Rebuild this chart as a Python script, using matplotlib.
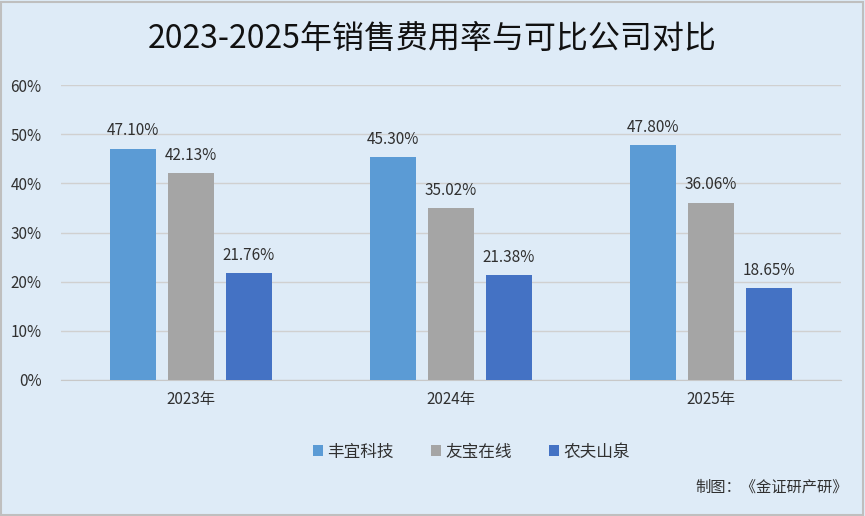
import numpy as np
import matplotlib
matplotlib.use('Agg')
import matplotlib.pyplot as plt
from matplotlib.patches import Rectangle

plt.rcParams['font.family'] = ['Noto Sans CJK SC', 'DejaVu Sans']

# data
years = ['2023年', '2024年', '2025年']
companies = ['丰宜科技', '友宝在线', '农夫山泉']
fengyi = [47.10, 45.30, 47.80]
youbao = [42.13, 35.02, 36.06]
nongfu = [21.76, 21.38, 18.65]
colors = ['#5B9BD5', '#A5A5A5', '#4472C4']
yticks = [0, 10, 20, 30, 40, 50, 60]

bg = '#DEEBF7'
fig = plt.figure(figsize=(8.65, 5.16), dpi=100, facecolor=bg)
fig.patches.append(Rectangle((0.001, 0.002), 0.997, 0.995, transform=fig.transFigure,
                             fill=False, edgecolor='#BFBFBF', linewidth=1.5))

ax = fig.add_axes([0.0705, 0.2636, 0.9015, 0.5714])
ax.set_facecolor(bg)

x = np.arange(len(years))
width = 0.177
step = 0.222
series = [fengyi, youbao, nongfu]
for i, (vals, name, c) in enumerate(zip(series, companies, colors)):
    bars = ax.bar(x + (i - 1) * step, vals, width, color=c, label=name, zorder=3)
    for b, v in zip(bars, vals):
        ax.text(b.get_x() + b.get_width() / 2, v + 1.9, '%.2f%%' % v,
                ha='center', va='bottom', fontsize=11, color='#303030')

ax.set_xlim(-0.5, 2.5)
ax.set_ylim(0, 60)
ax.set_yticks(yticks)
ax.set_yticklabels(['%d%%' % t for t in yticks], fontsize=11, color='#303030')
ax.set_xticks(x)
ax.set_xticklabels(years, fontsize=11, color='#303030')
ax.tick_params(length=0, pad=8)
ax.tick_params(axis='y', pad=14)
ax.grid(axis='y', color='#D0D0D0', linewidth=1, zorder=0)
for s in ['top', 'right', 'left']:
    ax.spines[s].set_visible(False)
ax.spines['bottom'].set_color('#C8C8C8')

fig.text(0.5, 0.925, '2023-2025年销售费用率与可比公司对比', ha='center', va='center',
         fontsize=23, color='#111111')

leg = fig.legend(loc='center', bbox_to_anchor=(0.545, 0.124), ncol=3, frameon=False,
                 fontsize=12, handlelength=0.6, handleheight=0.6, handletextpad=0.3,
                 columnspacing=2.2, labelcolor='#303030')

fig.text(0.98, 0.055, '制图：《金证研产研》', ha='right', va='center', fontsize=11,
         color='#303030')

plt.savefig('out.png', dpi=100, facecolor=bg)
